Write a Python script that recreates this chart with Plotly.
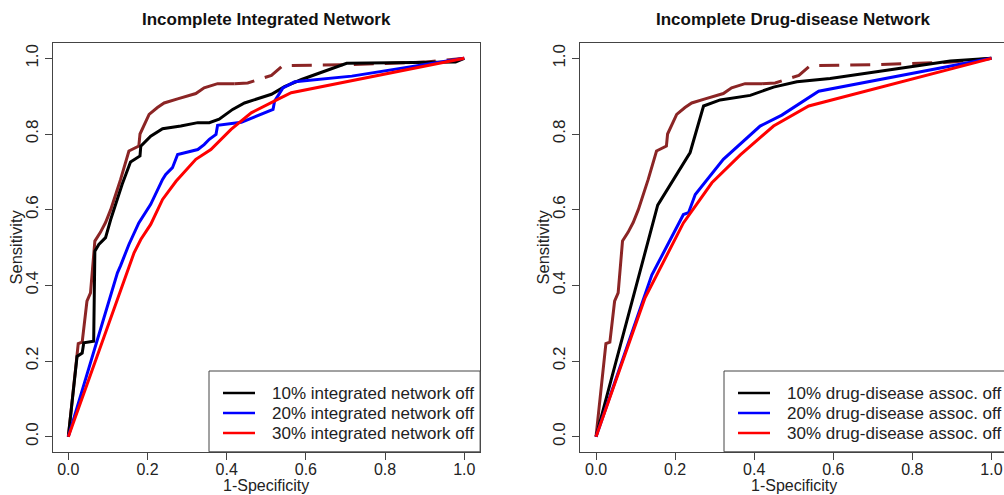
import plotly.graph_objects as go

# ---- ROC data -------------------------------------------------------------
# Complete network (shared by both panels): solid part and dashed tail
complete_fpr = [0, 0.025, 0.035, 0.047, 0.056, 0.067, 0.081, 0.094, 0.107, 0.132,
                0.153, 0.178, 0.181, 0.204, 0.225, 0.242, 0.276, 0.322, 0.343, 0.377, 0.420]
complete_tpr = [0, 0.246, 0.250, 0.358, 0.380, 0.517, 0.540, 0.566, 0.600, 0.680,
                0.755, 0.768, 0.800, 0.852, 0.870, 0.882, 0.893, 0.907, 0.922, 0.933, 0.933]
complete_tail_fpr = [0.420, 0.453, 0.513, 0.542, 0.700, 0.900, 1.0]
complete_tail_tpr = [0.933, 0.935, 0.955, 0.981, 0.983, 0.990, 1.0]

# Incomplete integrated network
int10_fpr = [0, 0.022, 0.035, 0.039, 0.064, 0.067, 0.077, 0.094, 0.107, 0.136, 0.157,
             0.181, 0.183, 0.208, 0.238, 0.284, 0.327, 0.356, 0.381, 0.415, 0.445,
             0.513, 0.546, 0.589, 0.631, 0.673, 0.703, 0.978, 1.0]
int10_tpr = [0, 0.212, 0.221, 0.248, 0.252, 0.490, 0.508, 0.526, 0.574, 0.667, 0.726,
             0.742, 0.768, 0.794, 0.814, 0.821, 0.830, 0.830, 0.839, 0.865, 0.882,
             0.905, 0.925, 0.944, 0.960, 0.975, 0.987, 0.990, 1.0]
int20_fpr = [0, 0.124, 0.132, 0.153, 0.178, 0.208, 0.238, 0.246, 0.263, 0.276, 0.327,
             0.343, 0.356, 0.373, 0.377, 0.437, 0.517, 0.521, 0.542, 0.572, 0.716, 0.970, 1.0]
int20_tpr = [0, 0.433, 0.452, 0.508, 0.565, 0.614, 0.680, 0.693, 0.711, 0.746, 0.759,
             0.772, 0.786, 0.799, 0.823, 0.831, 0.865, 0.887, 0.922, 0.938, 0.953, 0.995, 1.0]
int30_fpr = [0, 0.166, 0.183, 0.208, 0.238, 0.272, 0.322, 0.360, 0.411, 0.462, 0.530, 0.563, 1.0]
int30_tpr = [0, 0.486, 0.521, 0.561, 0.627, 0.675, 0.733, 0.759, 0.812, 0.856, 0.892, 0.909, 1.0]

# Incomplete drug-disease network
dd10_fpr = [0, 0.156, 0.238, 0.272, 0.314, 0.390, 0.449, 0.508, 0.592, 0.896, 1.0]
dd10_tpr = [0, 0.612, 0.751, 0.874, 0.890, 0.902, 0.924, 0.938, 0.947, 0.993, 1.0]
dd20_fpr = [0, 0.141, 0.221, 0.234, 0.251, 0.322, 0.415, 0.470, 0.563, 1.0]
dd20_tpr = [0, 0.427, 0.587, 0.592, 0.640, 0.733, 0.821, 0.850, 0.913, 1.0]
dd30_fpr = [0, 0.124, 0.221, 0.293, 0.365, 0.449, 0.538, 1.0]
dd30_tpr = [0, 0.367, 0.565, 0.671, 0.745, 0.821, 0.874, 1.0]

titles = ["Incomplete Integrated Network", "Incomplete Drug-disease Network"]
legend_labels = [
    ["10% integrated network off", "20% integrated network off", "30% integrated network off"],
    ["10% drug-disease assoc. off", "20% drug-disease assoc. off", "30% drug-disease assoc. off"],
]
tick_vals = [0, 0.2, 0.4, 0.6, 0.8, 1.0]
tick_text = ["0.0", "0.2", "0.4", "0.6", "0.8", "1.0"]

COLORS = ["#000000", "#0000FF", "#FF0000"]
BROWN = "#8B2525"
FONT = "Liberation Sans, Arial, Helvetica, sans-serif"
W, H = 1004, 495
LW = 3


def px(x):
    return x / W


def py(y):
    return 1 - y / H


fig = go.Figure()

panels = [
    ("x", "y", [(int10_fpr, int10_tpr), (int20_fpr, int20_tpr), (int30_fpr, int30_tpr)]),
    ("x2", "y2", [(dd10_fpr, dd10_tpr), (dd20_fpr, dd20_tpr), (dd30_fpr, dd30_tpr)]),
]

for xa, ya, series in panels:
    fig.add_trace(go.Scatter(x=complete_fpr, y=complete_tpr, mode="lines", xaxis=xa, yaxis=ya,
                             line=dict(color=BROWN, width=LW), showlegend=False, hoverinfo="skip"))
    fig.add_trace(go.Scatter(x=complete_tail_fpr, y=complete_tail_tpr, mode="lines", xaxis=xa, yaxis=ya,
                             line=dict(color=BROWN, width=LW, dash="20px,11px"),
                             showlegend=False, hoverinfo="skip"))
    for (fx, fy), col in zip(series, COLORS):
        fig.add_trace(go.Scatter(x=fx, y=fy, mode="lines", xaxis=xa, yaxis=ya,
                                 line=dict(color=col, width=LW), showlegend=False))

axis_common = dict(
    tickvals=tick_vals, ticktext=tick_text, ticks="outside", ticklen=7, tickwidth=1,
    tickcolor="#444", showline=True, linecolor="#444", linewidth=1, showgrid=False,
    zeroline=False,
)
x_tickfont = dict(family=FONT, size=16, color="#222")
y_tickfont = dict(family=FONT, size=17, color="#222")

y_dom = [1 - 451.8 / H, 1 - 43.2 / H]
fig.update_layout(
    width=W, height=H, margin=dict(l=0, r=0, t=0, b=0),
    paper_bgcolor="white", plot_bgcolor="white", showlegend=False,
    xaxis=dict(domain=[px(52.5), px(480.1)], range=[-0.04, 1.04], mirror=True,
               anchor="y", ticklabelstandoff=-4, tickfont=x_tickfont, **axis_common),
    yaxis=dict(domain=y_dom, range=[-0.04, 1.04], mirror=True, anchor="x",
               tickangle=-90, tickfont=y_tickfont, **axis_common),
    xaxis2=dict(domain=[px(580.2), 1.0], range=[-0.04, -0.04 + (W - 580.2) / 395.4],
                mirror=True, anchor="y2", ticklabelstandoff=-4, tickfont=x_tickfont, **axis_common),
    yaxis2=dict(domain=y_dom, range=[-0.04, 1.04], anchor="x2",
                tickangle=-90, tickfont=y_tickfont, **axis_common),
)

annotations = []
shapes = []
# panel geometry in pixels: (box left, box right, title centre, y-label x, legend box left, sample x0, text x0)
geo = [
    (52.5, 480.1, 266.3, 15, 209, 223, 270),
    (580.2, 1007.2, 793.7, 542, 724, 738, 785),
]
for i, (bl, br, cx, ylx, lgx, smp, tx) in enumerate(geo):
    annotations.append(dict(x=px(cx), y=py(19), xref="paper", yref="paper", text=f"<b>{titles[i]}</b>",
                            showarrow=False, font=dict(family=FONT, size=17, color="#111"),
                            xanchor="center", yanchor="middle"))
    annotations.append(dict(x=px(cx), y=py(495), xref="paper", yref="paper", text="1-Specificity",
                            showarrow=False, font=dict(family=FONT, size=16, color="#222"),
                            xanchor="center", yanchor="bottom", borderpad=0))
    annotations.append(dict(x=px(ylx), y=py(247.5), xref="paper", yref="paper", text="Sensitivity",
                            showarrow=False, textangle=-90, font=dict(family=FONT, size=16.5, color="#222"),
                            xanchor="center", yanchor="middle"))
    # legend frame
    shapes.append(dict(type="rect", xref="paper", yref="paper", x0=px(lgx), x1=px(min(br, W + 10)),
                       y0=py(451.8), y1=py(371), line=dict(color="#444", width=1),
                       fillcolor="white", layer="above"))
    for j, lab in enumerate(legend_labels[i]):
        ry = 393 + 20 * j
        shapes.append(dict(type="line", xref="paper", yref="paper", x0=px(smp), x1=px(smp + 32),
                           y0=py(ry), y1=py(ry), line=dict(color=COLORS[j], width=2.5), layer="above"))
        annotations.append(dict(x=px(tx), y=py(ry), xref="paper", yref="paper", text=lab,
                                showarrow=False, font=dict(family=FONT, size=17, color="#222"),
                                xanchor="left", yanchor="middle"))

fig.update_layout(annotations=annotations, shapes=shapes)
fig.write_html("out.html")
